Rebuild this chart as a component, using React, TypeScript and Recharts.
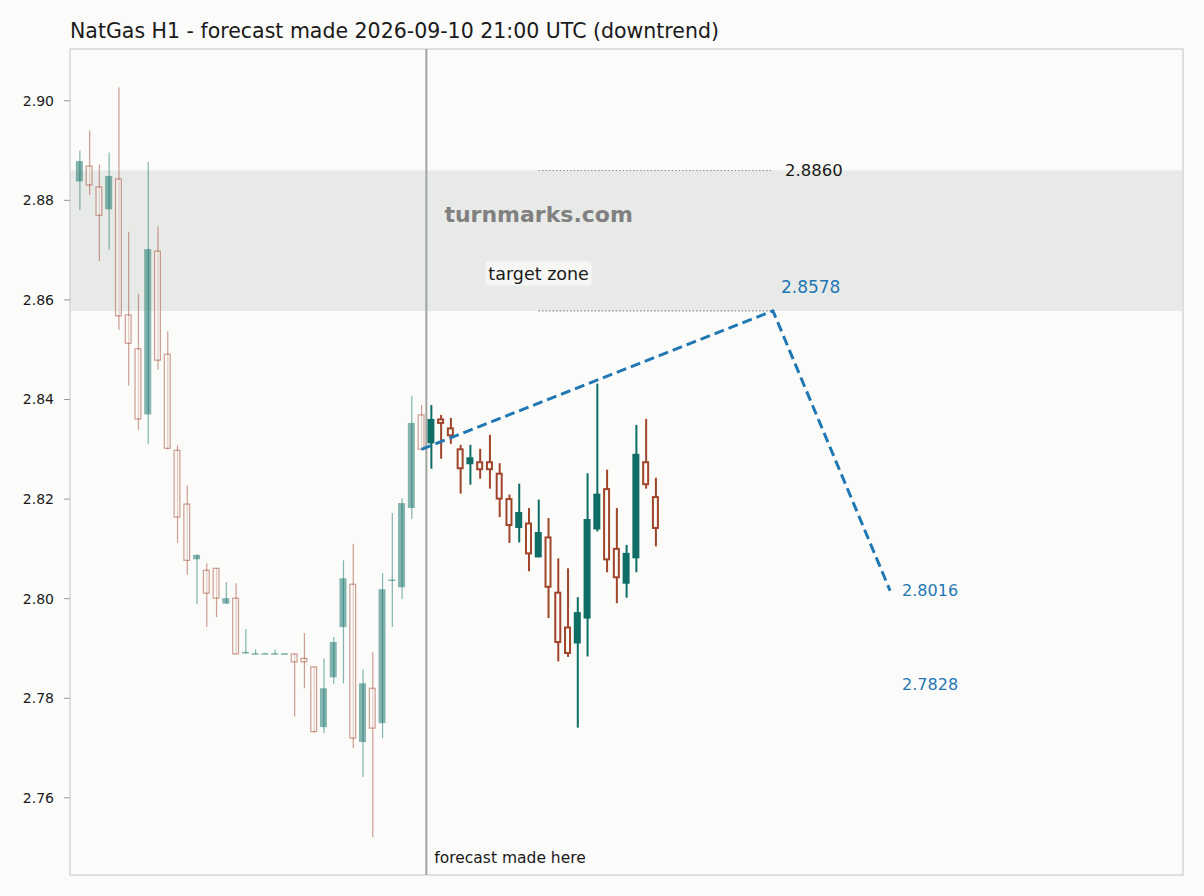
import { ComposedChart, Bar, Line, XAxis, YAxis, ReferenceArea, ReferenceLine, ReferenceDot } from 'recharts';

// candles: 0..35 history, 36..59 forecast
const opens = [
  2.8838, 2.8869, 2.8827, 2.8782, 2.8843, 2.8570, 2.8502, 2.8370, 2.8698, 2.8491,
  2.8298, 2.8190, 2.8079, 2.8057, 2.8061, 2.7990, 2.8001, 2.7890, 2.7889, 2.7889,
  2.7889, 2.7889, 2.7889, 2.7880, 2.7863, 2.7742, 2.7842, 2.7943, 2.8029, 2.7712,
  2.7820, 2.7750, 2.8037, 2.8023, 2.8182, 2.8369,
  2.8312, 2.8360, 2.8342, 2.8300, 2.8270, 2.8274, 2.8274, 2.8251, 2.8200, 2.8142,
  2.8151, 2.8083, 2.8123, 2.8012, 2.7942, 2.7910, 2.7960, 2.8139, 2.8220, 2.8100,
  2.8030, 2.8081, 2.8274, 2.8204,
];
const closes = [
  2.8879, 2.8831, 2.8770, 2.8849, 2.8568, 2.8513, 2.8361, 2.8702, 2.8479, 2.8302,
  2.8164, 2.8077, 2.8088, 2.8011, 2.8001, 2.8001, 2.7889, 2.7893, 2.7889, 2.7889,
  2.7889, 2.7889, 2.7873, 2.7873, 2.7733, 2.7820, 2.7913, 2.8041, 2.7720, 2.7830,
  2.7740, 2.8019, 2.8037, 2.8192, 2.8353, 2.8300,
  2.8361, 2.8353, 2.8328, 2.8262, 2.8284, 2.8260, 2.8260, 2.8201, 2.8148, 2.8174,
  2.8091, 2.8134, 2.8024, 2.7913, 2.7891, 2.7973, 2.8160, 2.8211, 2.8079, 2.8043,
  2.8092, 2.8291, 2.8230, 2.8142,
];
const highs = [
  2.8900, 2.8940, 2.8872, 2.8896, 2.9027, 2.8737, 2.8612, 2.8877, 2.8748, 2.8537,
  2.8308, 2.8227, 2.8089, 2.8071, 2.8061, 2.8033, 2.8031, 2.7939, 2.7898, 2.7891,
  2.7898, 2.7889, 2.7889, 2.7931, 2.7863, 2.7880, 2.7923, 2.8077, 2.8110, 2.7858,
  2.7892, 2.8051, 2.8172, 2.8202, 2.8407, 2.8389,
  2.8389, 2.8369, 2.8363, 2.8309, 2.8309, 2.8301, 2.8329, 2.8272, 2.8209, 2.8231,
  2.8182, 2.8199, 2.8162, 2.8081, 2.8061, 2.8003, 2.8252, 2.8432, 2.8259, 2.8182,
  2.8108, 2.8349, 2.8361, 2.8243,
];
const lows = [
  2.8781, 2.8811, 2.8678, 2.8701, 2.8540, 2.8428, 2.8339, 2.8311, 2.8460, 2.8300,
  2.8112, 2.8048, 2.7989, 2.7943, 2.7963, 2.7990, 2.7889, 2.7890, 2.7889, 2.7889,
  2.7889, 2.7889, 2.7763, 2.7820, 2.7731, 2.7730, 2.7829, 2.7830, 2.7700, 2.7642,
  2.7521, 2.7720, 2.7943, 2.7999, 2.8160, 2.8300,
  2.8261, 2.8281, 2.8311, 2.8211, 2.8229, 2.8241, 2.8221, 2.8164, 2.8112, 2.8113,
  2.8055, 2.8083, 2.7961, 2.7874, 2.7883, 2.7741, 2.7884, 2.8135, 2.8053, 2.7991,
  2.8002, 2.8053, 2.8221, 2.8105,
];
const historyCount = 36;

// forecast path
const pathX = [35, 71, 83];
const pathY = [2.83, 2.8578, 2.8016];

const zoneLow = 2.8578;
const zoneHigh = 2.886;
const yTicks = [2.76, 2.78, 2.8, 2.82, 2.84, 2.86, 2.88, 2.9];

const TEAL = '#0e6e66';
const RUST = '#a0442a';
const BLUE = '#1f77b4';
const BG = '#fbfbf9';
const FONT = '"DejaVu Sans", sans-serif';

const data: any[] = opens.map((o, i) => ({
  x: i,
  open: o,
  close: closes[i],
  high: highs[i],
  low: lows[i],
  hist: i < historyCount,
}));
pathX.forEach((px, k) => {
  const row = data.find((d) => d.x === px);
  if (row) row.path = pathY[k];
  else data.push({ x: px, path: pathY[k] });
});

const WickShape = (props: any) => {
  const { x, y, width, height, payload } = props;
  if (payload.open === undefined) return null;
  const up = payload.close >= payload.open;
  const w = payload.hist ? 1.2 : 2;
  const cx = x + width / 2;
  return (
    <rect
      x={cx - w / 2}
      y={y}
      width={w}
      height={Math.max(height, 0.5)}
      fill={up ? TEAL : RUST}
      opacity={payload.hist ? 0.5 : 1}
    />
  );
};

const BodyShape = (props: any) => {
  const { x, y, width, height, payload } = props;
  if (payload.open === undefined) return null;
  const up = payload.close >= payload.open;
  const op = payload.hist ? 0.5 : 1;
  let h = height;
  let top = y;
  if (h < 1.5) {
    top = y + h / 2 - 0.75;
    h = 1.5;
  }
  if (up) {
    return <rect x={x} y={top} width={width} height={h} fill={TEAL} opacity={op} />;
  }
  const sw = payload.hist ? 1.2 : 2;
  return (
    <rect
      x={x + sw / 2}
      y={top}
      width={width - sw}
      height={Math.max(h, sw)}
      fill={BG}
      stroke={RUST}
      strokeWidth={sw}
      opacity={op}
    />
  );
};

const note = (text: string, dx: number, dy: number, opts: any = {}) => (p: any) => (
  <text
    x={p.cx + dx}
    y={p.cy + dy}
    fontFamily={FONT}
    fontSize={opts.size || 16}
    fontWeight={opts.weight || 'normal'}
    fill={opts.color || '#1a1a1a'}
    textAnchor={opts.anchor || 'start'}
    dominantBaseline="central"
  >
    {text}
  </text>
);

const targetLabel = (p: any) => (
  <g>
    <rect x={p.cx - 53} y={p.cy - 12} width={106} height={24} rx={3} fill="#f7f7f5" opacity={0.9} />
    <text x={p.cx} y={p.cy} fontFamily={FONT} fontSize={17.5} fill="#1a1a1a" textAnchor="middle" dominantBaseline="central">
      target zone
    </text>
  </g>
);

export default function App() {
  const xDomain: [number, number] = [-1, 113];
  const yDomain: [number, number] = [2.7445, 2.9104];
  return (
    <div style={{ position: 'fixed', left: 0, top: 0, width: 1204, height: 896, background: BG, fontFamily: FONT }}>
      <div
        style={{
          position: 'absolute',
          left: 70,
          top: 21,
          fontSize: 20.5,
          lineHeight: '20px',
          color: '#1a1a1a',
          whiteSpace: 'nowrap',
        }}
      >
        NatGas H1 - forecast made 2026-09-10 21:00 UTC (downtrend)
      </div>
      <ComposedChart width={1204} height={896} data={data} margin={{ top: 49, right: 21, bottom: 21, left: 10 }}>
        <XAxis xAxisId="w" dataKey="x" type="number" domain={xDomain} hide allowDataOverflow />
        <XAxis xAxisId="b" dataKey="x" type="number" domain={xDomain} hide allowDataOverflow />
        <YAxis
          type="number"
          domain={yDomain}
          ticks={yTicks}
          allowDataOverflow
          width={60}
          axisLine={false}
          tickSize={6}
          tickMargin={10}
          tickLine={{ stroke: '#999999' }}
          tick={{ fontSize: 14, fontFamily: FONT, fill: '#1a1a1a' }}
          tickFormatter={(v: number) => v.toFixed(2)}
        />
        <ReferenceArea xAxisId="b" x1={-1} x2={113} y1={zoneLow} y2={zoneHigh} fill="#e8eae7" fillOpacity={1} stroke="none" />
        <ReferenceLine
          xAxisId="b"
          segment={[{ x: 47, y: zoneHigh }, { x: 71, y: zoneHigh }]}
          stroke="#8a8a8a"
          strokeWidth={1.2}
          strokeDasharray="1.5 2"
        />
        <ReferenceLine
          xAxisId="b"
          segment={[{ x: 47, y: zoneLow }, { x: 71, y: zoneLow }]}
          stroke="#8a8a8a"
          strokeWidth={1.2}
          strokeDasharray="1.5 2"
        />
        <ReferenceLine xAxisId="b" x={35.5} stroke="#9fa4a1" strokeWidth={2} />
        <ReferenceDot xAxisId="b" x={47} y={2.8771} r={0} shape={note('turnmarks.com', 0, 0, { size: 22, weight: 'bold', color: '#808080', anchor: 'middle' })} />
        <ReferenceDot xAxisId="b" x={47} y={2.8653} r={0} shape={targetLabel} />
        <ReferenceDot xAxisId="b" x={71} y={zoneHigh} r={0} shape={note('2.8860', 12, 0, { size: 16.5 })} />
        <ReferenceDot xAxisId="b" x={71} y={zoneLow} r={0} shape={note('2.8578', 8, -24, { color: BLUE, size: 17 })} />
        <ReferenceDot xAxisId="b" x={83} y={2.8016} r={0} shape={note('2.8016', 12, 0, { color: BLUE })} />
        <ReferenceDot xAxisId="b" x={83} y={2.7828} r={0} shape={note('2.7828', 12, 0, { color: BLUE })} />
        <ReferenceDot xAxisId="b" x={35.5} y={2.748} r={0} shape={note('forecast made here', 8, 0, { size: 15.5 })} />
        <Bar
          xAxisId="w"
          dataKey={(d: any) => (d.open === undefined ? undefined : [d.low, d.high])}
          barSize={2}
          shape={WickShape}
          isAnimationActive={false}
        />
        <Bar
          xAxisId="b"
          dataKey={(d: any) =>
            d.open === undefined ? undefined : [Math.min(d.open, d.close), Math.max(d.open, d.close)]
          }
          barSize={7}
          shape={BodyShape}
          isAnimationActive={false}
        />
        <Line
          xAxisId="b"
          dataKey="path"
          connectNulls
          dot={false}
          stroke={BLUE}
          strokeWidth={3}
          strokeDasharray="10 5"
          isAnimationActive={false}
        />
        <ReferenceArea xAxisId="b" x1={-1} x2={113} y1={yDomain[0]} y2={yDomain[1]} fill="none" stroke="#d3d8d6" strokeWidth={1.5} />
      </ComposedChart>
    </div>
  );
}
